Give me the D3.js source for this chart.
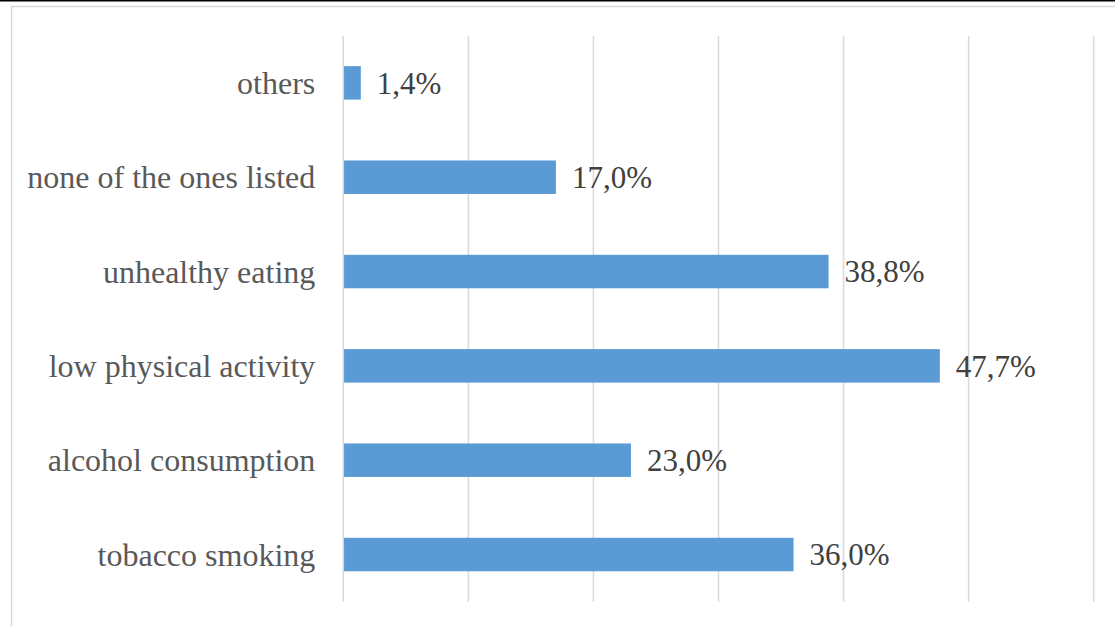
<!DOCTYPE html>
<html>
<head>
<meta charset="utf-8">
<script src="https://cdn.jsdelivr.net/npm/d3@7/dist/d3.min.js"></script>
<style>
  html, body { margin: 0; padding: 0; background: #fff; }
  svg { display: block; }
</style>
</head>
<body>
<svg id="chart" width="1115" height="626"></svg>
<script>
// Categories listed top to bottom, with their shares in percent
const categories = ["others", "none of the ones listed", "unhealthy eating", "low physical activity", "alcohol consumption", "tobacco smoking"];
const shares = [1.4, 17.0, 38.8, 47.7, 23.0, 36.0];
const gridTicks = [0, 10, 20, 30, 40, 50, 60];

const data = categories.map((c, i) => ({ category: c, value: shares[i] }));

const W = 1115, H = 626;
const plot = { left: 343.3, right: 1093.7, top: 35.7, bottom: 601.7 };

const svg = d3.select("#chart");

// chart frame: dark rule along the top edge, light box border
svg.append("rect").attr("x", 0).attr("y", 0).attr("width", W).attr("height", H).attr("fill", "#fff");
svg.append("line").attr("x1", 0).attr("x2", W).attr("y1", 0.75).attr("y2", 0.75)
  .attr("stroke", "#000").attr("stroke-width", 1.5);
svg.append("rect").attr("x", 11.5).attr("y", 6.5).attr("width", W + 10).attr("height", H + 10)
  .attr("fill", "none").attr("stroke", "#d9d9d9").attr("stroke-width", 1.5);

const x = d3.scaleLinear().domain([0, 60]).range([plot.left, plot.right]);
const y = d3.scaleBand().domain(categories).range([plot.top, plot.bottom])
  .paddingInner(0.645).paddingOuter(0.3225);

// vertical gridlines
svg.append("g").selectAll("line").data(gridTicks).join("line")
  .attr("x1", d => x(d)).attr("x2", d => x(d))
  .attr("y1", plot.top).attr("y2", plot.bottom)
  .attr("stroke", "#d9d9d9").attr("stroke-width", 1.5);

// bars
svg.append("g").selectAll("rect").data(data).join("rect")
  .attr("x", x(0) + 0.75)
  .attr("y", d => y(d.category))
  .attr("width", d => x(d.value) - x(0) - 0.75)
  .attr("height", y.bandwidth())
  .attr("fill", "#5b9bd5");

const font = "'Liberation Serif', serif";

// category labels
svg.append("g").selectAll("text").data(data).join("text")
  .attr("x", plot.left - 28)
  .attr("y", d => y(d.category) + y.bandwidth() / 2)
  .attr("dy", "0.35em")
  .attr("text-anchor", "end")
  .attr("font-family", font)
  .attr("font-size", 32)
  .attr("fill", "#595959")
  .text(d => d.category);

// value labels
const fmt = v => v.toFixed(1).replace(".", ",") + "%";
svg.append("g").selectAll("text").data(data).join("text")
  .attr("x", d => x(d.value) + 16)
  .attr("y", d => y(d.category) + y.bandwidth() / 2)
  .attr("dy", "0.35em")
  .attr("font-family", font)
  .attr("font-size", 31)
  .attr("fill", "#404040")
  .text(d => fmt(d.value));
</script>
</body>
</html>
